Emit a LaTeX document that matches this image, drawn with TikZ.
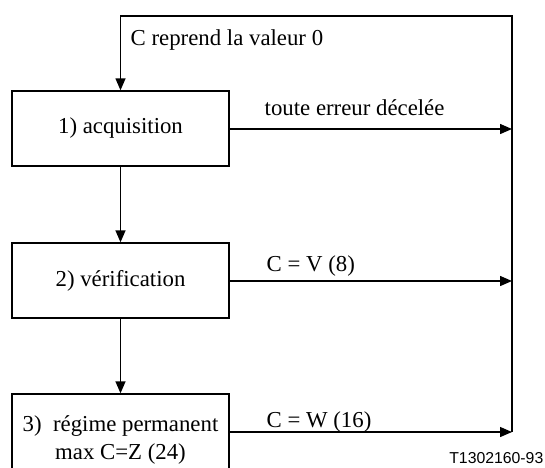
\documentclass[tikz,border=0pt]{standalone}
\usepackage{fontspec}
\setmainfont{Liberation Serif}
\newfontfamily\labsans{Liberation Sans}
\usetikzlibrary{arrows.meta}
\begin{document}
\begin{tikzpicture}[x=1pt,y=-1pt,
  line width=1.4pt,
  font=\fontsize{22.8pt}{28pt}\selectfont,
  stepbox/.style={draw=black,rectangle,minimum width=217pt,inner sep=0pt,align=center},
  lab/.style={anchor=base west,inner sep=0pt},
  arr/.style={-{Triangle[length=12pt,width=10pt]}}]
\useasboundingbox[fill=white] (0,0) rectangle (545,467);
\clip (0,0) rectangle (545,467);
% boxes
\node[stepbox,minimum height=75pt] (b1) at (120.5,128.5) {1) acquisition};
\node[stepbox,minimum height=75pt] (b2) at (120.5,280.5) {2) vérification};
\node[stepbox,minimum height=91pt] (b3) at (120.5,439.5) {3)\ \ régime permanent\\max C=Z (24)};
% rail coordinates
\coordinate (t) at (120.5,16);
\coordinate (r0) at (512,16);
\coordinate (r1) at (512,129);
\coordinate (r2) at (512,281);
\coordinate (r3) at (512,432);
% connectors
\draw[arr] (b1) -- (b2);
\draw[arr] (b2) -- (b3);
\draw[arr] (b1.east |- r1) -- (r1);
\draw[arr] (b2.east |- r2) -- (r2);
\draw[arr] (b3.east |- r3) -- (r3);
\draw[arr] (r3) -- (r0) -- (t) -- (b1.north);
% labels
\node[lab] (l0) at (130,45) {C reprend la valeur 0};
\node[lab] (l1) at (264,115) {toute erreur décelée};
\node[lab] (l2) at (266,271) {C = V (8)};
\node[lab] (l3) at (266,427) {C = W (16)};
\node[anchor=base east,inner sep=0pt,font=\labsans\fontsize{15.8pt}{18pt}\selectfont] (ref) at (544,463) {T1302160-93};
\end{tikzpicture}
\end{document}
